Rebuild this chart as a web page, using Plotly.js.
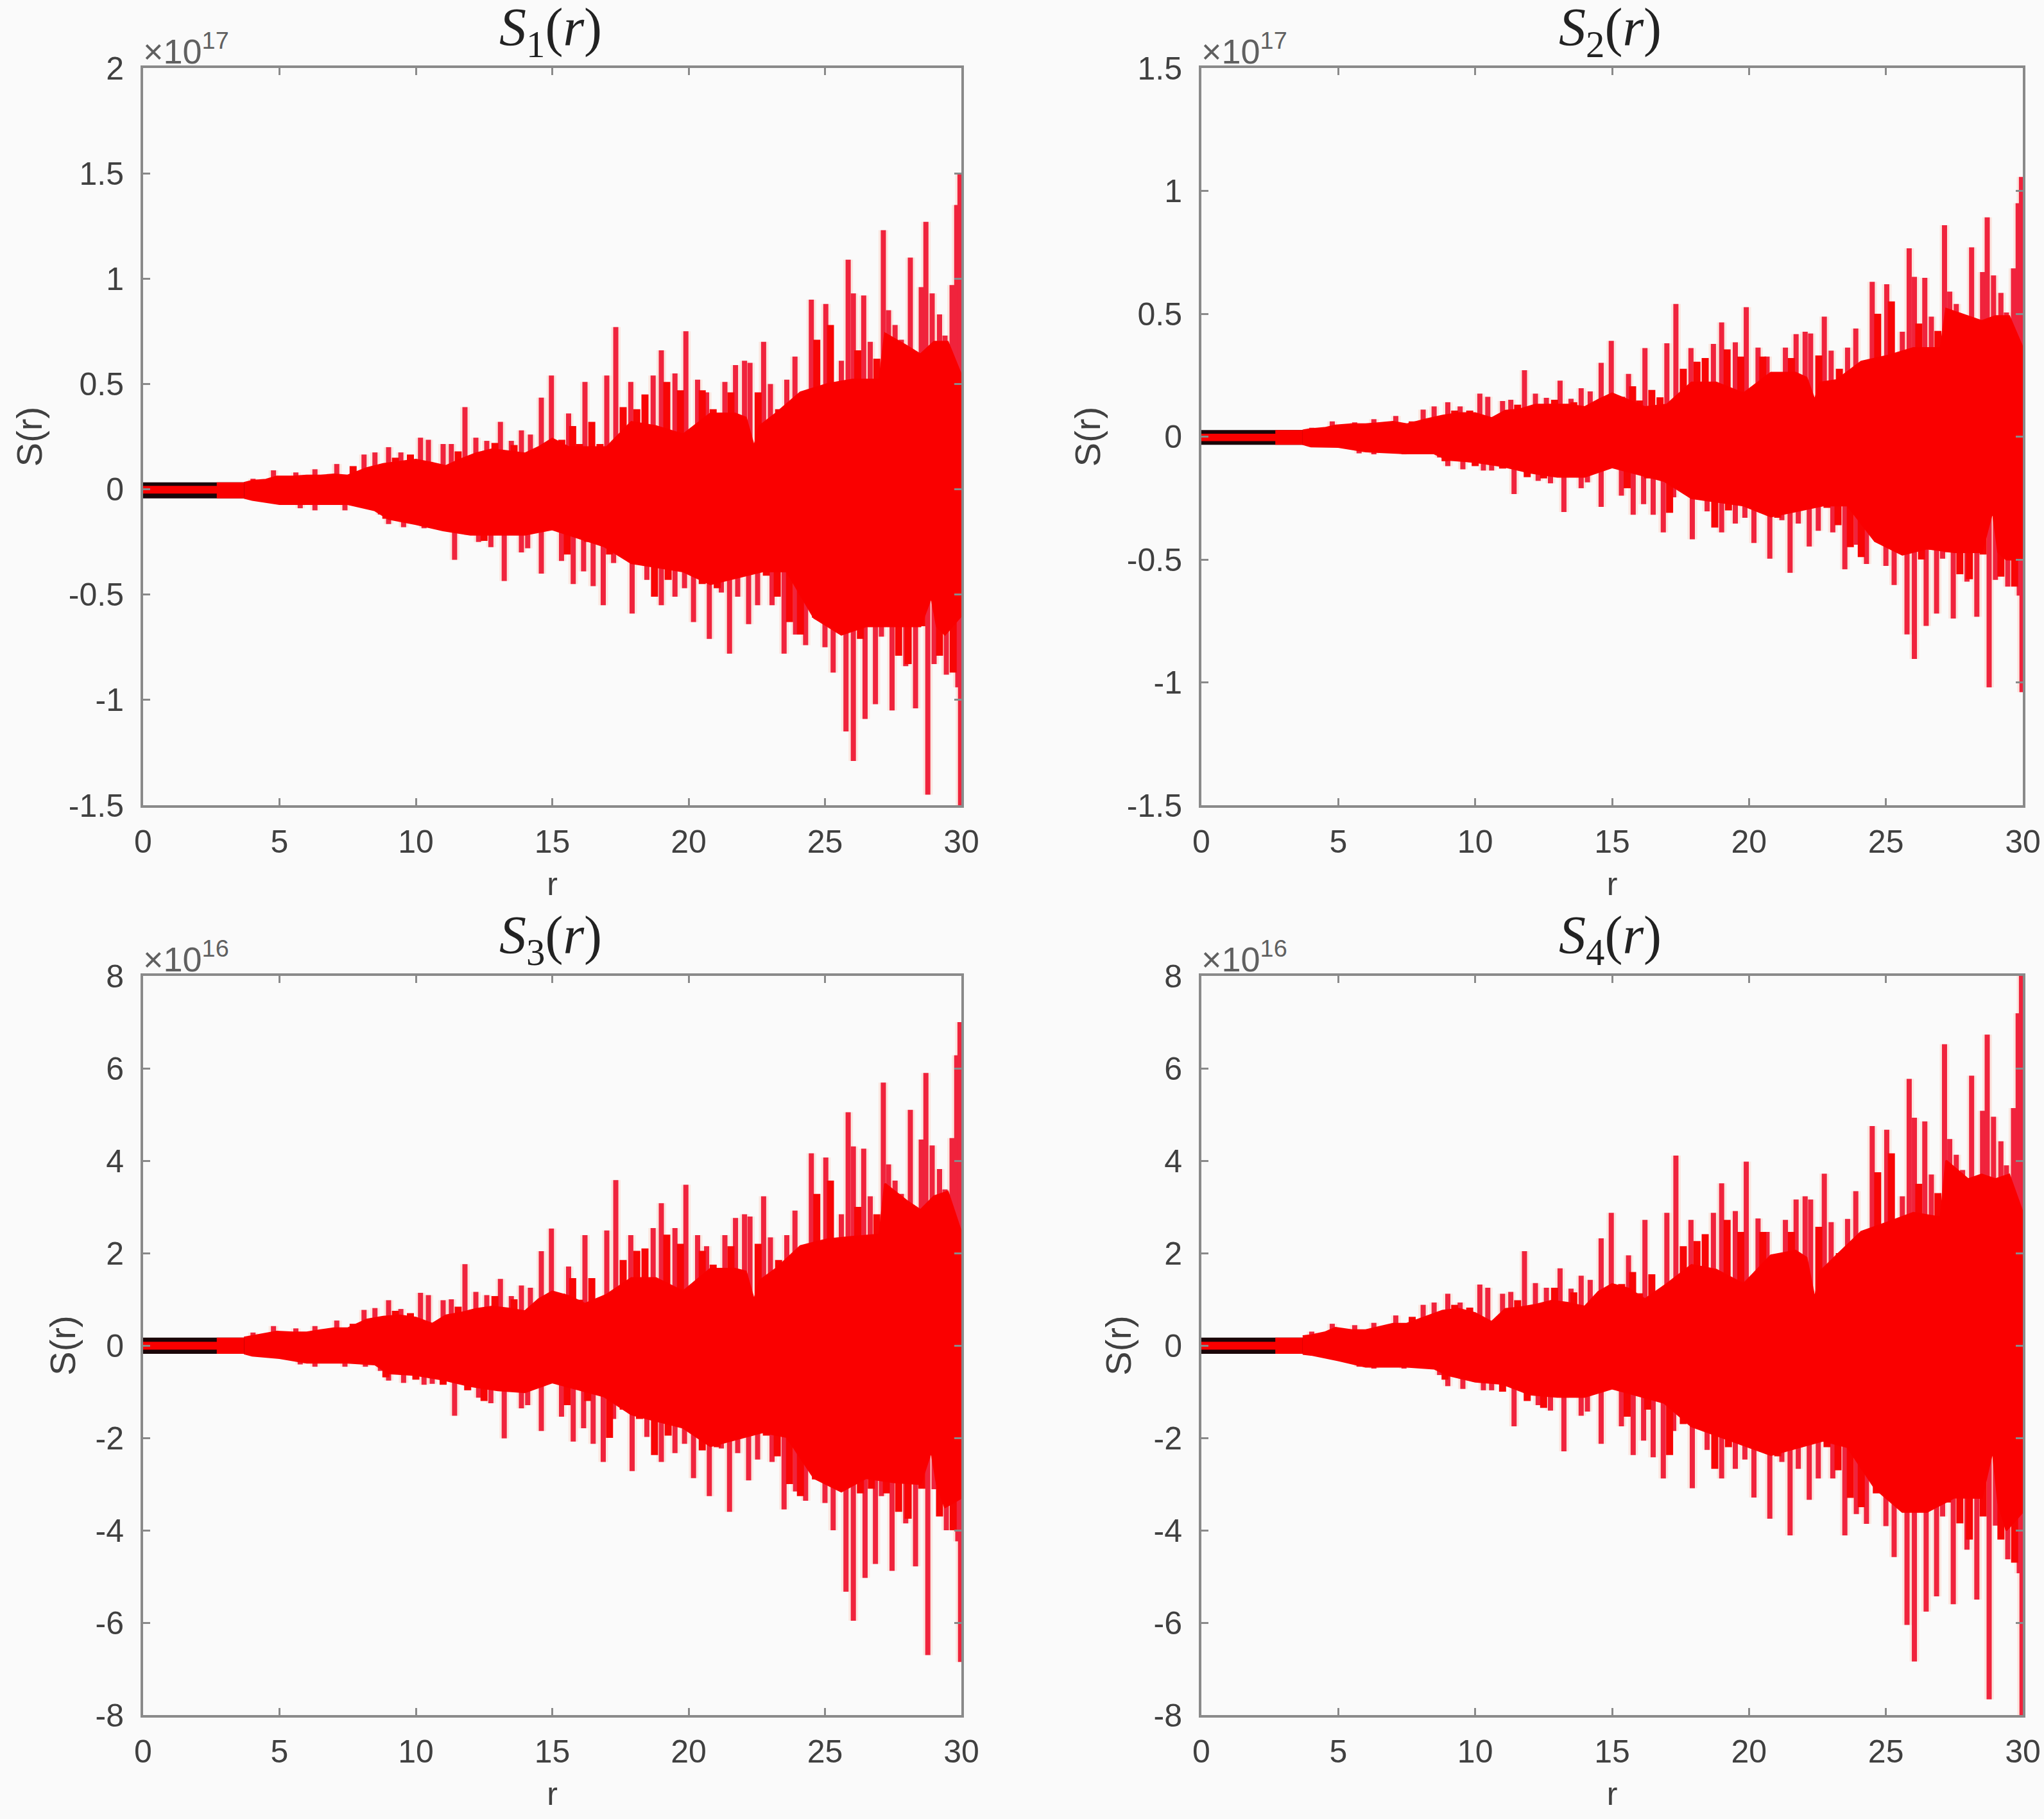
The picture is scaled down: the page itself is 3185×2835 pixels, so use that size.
<!DOCTYPE html>
<html>
<head>
<meta charset="utf-8">
<script src="https://cdn.plot.ly/plotly-3.0.1.min.js"></script>
<style>html,body{margin:0;padding:0;background:#fafafa}</style>
</head>
<body>
<div id="chart" style="width:3185px;height:2835px"></div>
<script>
// Values are in the units shown on each axis (x10^17 for S1,S2 and x10^16 for S3,S4)
const xTicks = [0,5,10,15,20,25,30];
const yTicks12 = [-1.5,-1,-0.5,0,0.5,1,1.5,2];
const yTicks2 = [-1.5,-1,-0.5,0,0.5,1,1.5];
const yTicks34 = [-8,-6,-4,-2,0,2,4,6,8];

const bandR = [0,2.7,2.7,3.7];
const blackR = [0,3.8];
const s1Black = [0.033,-0.043], s2Black = [0.027,-0.033], s3Black = [0.17,-0.18], s4Black = [0.17,-0.18];
const s1Band = [0.016,-0.02,0.033,-0.043], s2Band = [0.012,-0.018,0.027,-0.033], s3Band = [0.08,-0.09,0.17,-0.18], s4Band = [0.08,-0.09,0.17,-0.18];

const hiR = [3.7,4.0,4.5,4.9,5.5,6.0,6.5,7.0,7.5,8.2,8.8,9.4,10.0,10.6,11.1,11.6,12.2,12.8,13.4,14.0,14.5,15.0,15.6,16.2,17.0,17.9,18.8,19.8,20.8,21.7,22.1,22.4,22.6,23.2,24.1,25.1,26.0,27.0,27.2,28.0,28.5,29.0,29.5,30];
const s1Hi = [.03,.04,.045,.06,.06,.065,.065,.07,.065,.10,.12,.13,.14,.125,.11,.14,.17,.19,.18,.17,.20,.24,.20,.20,.20,.32,.30,.26,.36,.36,.34,.20,.30,.36,.46,.50,.52,.52,.74,.68,.64,.70,.70,.54];
const s2Hi = [.025,.03,.035,.045,.05,.05,.055,.06,.05,.07,.085,.095,.095,.075,.105,.11,.13,.13,.13,.12,.15,.176,.147,.12,.13,.22,.22,.176,.26,.26,.24,.147,.22,.23,.305,.33,.36,.36,.52,.49,.47,.49,.49,.36];
const s3Hi = [.17,.2,.25,.3,.28,.28,.33,.37,.37,.56,.62,.65,.6,.47,.65,.7,.79,.84,.8,.74,1.0,1.17,1.07,.9,1.1,1.46,1.46,1.17,1.66,1.66,1.6,.97,1.4,1.66,2.15,2.3,2.35,2.4,3.5,3.13,2.93,3.23,3.33,2.44];
const s4Hi = [.2,.22,.28,.38,.33,.33,.4,.47,.47,.62,.75,.79,.7,.51,.79,.82,.88,.97,.92,.84,1.16,1.33,1.23,1.0,1.33,1.74,1.64,1.33,1.95,2.05,1.9,1.0,1.6,1.95,2.46,2.67,2.87,2.77,4.0,3.6,3.7,3.6,3.7,2.87];

const loR = [3.7,4,5,6,7.5,8.5,9,10,11,12,13,14,15,16.9,17.9,19.8,20.8,22.7,23.6,24.6,25.6,26.5,27.5,28.5,28.9,29.1,29.4,30];
const s1Lo = [-.04,-.05,-.07,-.07,-.07,-.10,-.14,-.165,-.195,-.215,-.215,-.215,-.19,-.27,-.35,-.39,-.45,-.39,-.39,-.61,-.69,-.65,-.65,-.65,-.51,-.65,-.69,-.6];
const s2Lo = [-.03,-.04,-.042,-.06,-.068,-.068,-.094,-.103,-.12,-.146,-.163,-.163,-.125,-.18,-.25,-.28,-.325,-.28,-.28,-.425,-.48,-.455,-.47,-.47,-.3,-.47,-.5,-.5];
const s3Lo = [-.17,-.22,-.27,-.37,-.37,-.41,-.6,-.64,-.74,-.88,-.97,-1.01,-.8,-1.1,-1.49,-1.78,-2.18,-1.88,-1.98,-2.87,-3.16,-2.87,-2.96,-3.0,-2.28,-3.0,-3.5,-3.3];
const s4Lo = [-.18,-.2,-.32,-.46,-.46,-.5,-.64,-.78,-.83,-1.06,-1.11,-1.11,-.93,-1.24,-1.75,-2.16,-2.37,-2.06,-2.2,-3.09,-3.6,-3.6,-3.29,-3.3,-2.26,-3.4,-4.0,-3.6];

const upR = [4.03,4.78,5.6,6.3,7.1,8.1,8.5,9.0,9.45,10.17,10.46,11.0,11.3,11.8,12.2,12.6,13.1,13.5,13.87,14.2,14.6,14.97,
  15.6,16.2,17.0,17.33,17.88,18.7,19.0,19.5,19.9,20.33,20.66,21.33,21.72,22.05,22.25,22.75,23.0,23.6,23.9,24.5,25.03,25.6,25.85,26.04,26.42,26.66,27.14,27.33,27.57,27.8,28.13,28.53,28.7,28.93,29.2,29.4,29.66,29.83,29.95];
const s1Up = [.05,.09,.08,.095,.12,.165,.175,.20,.175,.245,.235,.215,.215,.39,.245,.23,.32,.23,.28,.26,.435,.54,
  .36,.51,.54,.77,.51,.54,.66,.55,.75,.52,.46,.51,.59,.61,.60,.70,.50,.52,.63,.90,.88,.61,1.09,.93,.92,.70,1.23,.85,.78,.71,1.10,.96,1.27,.93,.83,.73,.97,1.35,1.50];
const s2Up = [.036,.062,.058,.071,.084,.11,.123,.14,.123,.175,.162,.145,.15,.27,.175,.158,.228,.154,.197,.184,.30,.39,
  .255,.36,.38,.54,.36,.377,.465,.384,.527,.362,.326,.362,.417,.427,.42,.488,.35,.362,.44,.63,.62,.427,.766,.65,.646,.488,.86,.59,.54,.49,.77,.67,.892,.656,.585,.505,.685,.95,1.057];
const s3Up = [.28,.42,.37,.42,.54,.77,.81,.98,.79,1.14,1.09,.98,1.0,1.76,1.16,1.09,1.44,1.07,1.30,1.25,2.04,2.53,
  1.71,2.39,2.49,3.58,2.39,2.54,3.08,2.54,3.48,2.39,2.15,2.39,2.76,2.84,2.79,3.23,2.34,2.39,2.92,4.16,4.07,2.84,5.05,4.31,4.26,3.23,5.69,3.92,3.57,3.28,5.1,4.46,5.9,4.33,3.82,3.38,4.49,6.28,7.0];
const s4Up = [.30,.47,.44,.49,.65,.88,.93,1.12,.93,1.32,1.25,1.12,1.16,2.04,1.35,1.25,1.67,1.23,1.51,1.42,2.32,2.87,
  1.95,2.72,2.87,4.11,2.72,2.87,3.51,2.91,3.98,2.75,2.46,2.72,3.16,3.23,3.16,3.72,2.67,2.74,3.34,4.75,4.67,3.23,5.77,4.93,4.85,3.7,6.52,4.47,4.13,3.8,5.84,5.08,6.73,4.95,4.42,3.9,5.14,7.19,8.0];

const downR = [5.76,6.3,7.4,8.15,8.7,9.0,9.55,10.3,10.6,11.42,12.3,12.75,13.24,13.87,14.1,14.6,
  15.34,15.77,16.15,16.5,16.87,17.25,17.93,18.47,19.0,19.5,19.85,20.18,20.76,21.2,21.5,21.8,22.2,22.53,23.06,23.5,23.92,24.29,25.0,25.3,25.77,26.04,26.47,26.85,27.07,27.46,27.96,28.32,28.77,29.0,29.45,29.87,29.97];
const s1Down = [-.09,-.10,-.10,-.08,-.12,-.165,-.18,-.185,-.18,-.335,-.25,-.275,-.435,-.30,-.28,-.40,
  -.34,-.45,-.39,-.46,-.55,-.35,-.59,-.43,-.55,-.51,-.47,-.63,-.71,-.49,-.78,-.51,-.64,-.55,-.55,-.78,-.69,-.74,-.75,-.87,-1.15,-1.29,-1.09,-1.02,-.70,-1.05,-.84,-1.04,-1.45,-.83,-.88,-.94,-1.5];
const s2Down = [-.068,-.072,-.072,-.068,-.085,-.12,-.133,-.138,-.138,-.234,-.18,-.19,-.307,-.21,-.186,-.286,
  -.24,-.318,-.275,-.318,-.39,-.247,-.418,-.304,-.39,-.354,-.33,-.433,-.497,-.34,-.554,-.354,-.447,-.383,-.39,-.54,-.44,-.518,-.526,-.604,-.805,-.905,-.77,-.72,-.497,-.74,-.59,-.733,-1.02,-.583,-.61,-.647,-1.04];
const s3Down = [-.41,-.46,-.46,-.46,-.55,-.76,-.81,-.85,-.83,-1.52,-1.13,-1.25,-2.01,-1.36,-1.29,-1.85,
  -1.54,-2.08,-1.79,-2.13,-2.52,-1.59,-2.72,-1.98,-2.52,-2.33,-2.13,-2.87,-3.26,-2.23,-3.6,-2.33,-2.92,-2.47,-2.52,-3.55,-3.16,-3.36,-3.41,-4.0,-5.33,-5.96,-5.03,-4.73,-3.26,-4.88,-3.85,-4.78,-6.7,-3.11,-4.0,-4.24,-6.85];
const s4Down = [-.46,-.50,-.50,-.50,-.64,-.88,-.94,-.97,-.97,-1.75,-1.29,-1.41,-2.29,-1.52,-1.43,-2.13,
  -1.75,-2.37,-2.06,-2.42,-2.88,-1.85,-3.09,-2.26,-2.88,-2.67,-2.47,-3.29,-3.75,-2.52,-4.11,-2.67,-3.34,-2.88,-2.88,-4.11,-3.65,-3.86,-3.91,-4.58,-6.05,-6.84,-5.76,-5.43,-3.7,-5.6,-4.42,-5.5,-7.66,-3.9,-4.63,-4.93,-8.0];

// medium-height peaks that make up the jagged edge of the solid mass
const midUpR = [7.7,9.25,9.8,11.55,12.9,13.6,15.35,15.75,16.0,16.45,16.75,17.6,18.1,18.4,19.2,19.7,20.5,20.9,21.2,21.55,22.55,23.3,24.7,25.2,26.2,26.9];
const s1MidUp = [.11,.15,.165,.18,.22,.21,.235,.30,.215,.32,.215,.39,.38,.45,.51,.47,.47,.38,.35,.46,.46,.38,.71,.78,.66,.62];
const s2MidUp = [.062,.106,.106,.13,.15,.14,.162,.205,.147,.19,.16,.276,.305,.32,.355,.326,.326,.26,.25,.32,.33,.276,.5,.55,.46,.43];
const s3MidUp = [.47,.75,.7,.84,1.07,1.0,1.12,1.46,.99,1.46,.97,1.85,2.05,2.1,2.4,2.2,2.05,1.75,1.65,2.15,2.2,1.85,3.28,3.57,3.0,2.84];
const s4MidUp = [.62,.88,.82,.98,1.25,1.15,1.33,1.59,1.13,1.54,1.08,2.15,2.26,2.41,2.72,2.46,2.46,1.95,1.9,2.46,2.57,2.0,3.75,4.16,3.5,3.3];
const midDownR = [8.9,10.0,11.0,11.9,12.5,15.55,16.3,17.1,17.6,18.2,18.75,19.25,20.5,21.05,22.85,23.25,23.7,24.1,24.65,25.55,26.3,26.7,27.25,27.7,28.05,28.55,29.2,29.7];
const s1MidDown = [-.14,-.14,-.165,-.215,-.245,-.31,-.25,-.31,-.31,-.35,-.51,-.43,-.45,-.47,-.41,-.51,-.63,-.69,-.61,-.67,-.71,-.65,-.65,-.79,-.83,-.65,-.79,-.87];
const s2MidDown = [-.1,-.12,-.13,-.165,-.17,-.21,-.17,-.31,-.21,-.24,-.37,-.30,-.31,-.33,-.29,-.36,-.45,-.49,-.42,-.47,-.5,-.46,-.47,-.56,-.58,-.48,-.57,-.61];
const s3MidDown = [-.69,-.74,-.85,-.97,-1.2,-1.29,-1.2,-2.0,-1.39,-1.59,-2.37,-1.95,-2.27,-2.2,-1.95,-2.4,-3.0,-3.26,-2.9,-3.1,-3.2,-3.1,-3.2,-3.6,-3.75,-3.1,-3.7,-4.0];
const s4MidDown = [-.74,-.78,-1.0,-1.2,-1.35,-1.54,-1.39,-2.37,-1.7,-1.8,-2.67,-2.2,-2.3,-2.4,-2.2,-2.7,-3.3,-3.5,-3.2,-3.5,-3.6,-3.4,-3.4,-3.85,-4.2,-3.7,-4.2,-4.7];

const titles = ['<i>S</i><sub>1</sub>(<i>r</i>)','<i>S</i><sub>2</sub>(<i>r</i>)','<i>S</i><sub>3</sub>(<i>r</i>)','<i>S</i><sub>4</sub>(<i>r</i>)'];
const exponents = ['×10<sup>17</sup>','×10<sup>17</sup>','×10<sup>16</sup>','×10<sup>16</sup>'];
const xLabel = 'r', yLabel = 'S(r)';

const W = 3185, H = 2835;
const boxes = [[223,1498,106,1255],[1872,3152,106,1255],[223,1498,1521,2673],[1872,3152,1521,2673]];
const ranges = [[-1.5,2],[-1.5,1.5],[-8,8],[-8,8]];
const ticks = [yTicks12,yTicks2,yTicks34,yTicks34];
const standoffs = [24,24,14,18];
const sets = [
  {hi:s1Hi,lo:s1Lo,up:s1Up,down:s1Down,midUp:s1MidUp,midDown:s1MidDown,black:s1Black,band:s1Band},
  {hi:s2Hi,lo:s2Lo,up:s2Up,down:s2Down,midUp:s2MidUp,midDown:s2MidDown,black:s2Black,band:s2Band},
  {hi:s3Hi,lo:s3Lo,up:s3Up,down:s3Down,midUp:s3MidUp,midDown:s3MidDown,black:s3Black,band:s3Band},
  {hi:s4Hi,lo:s4Lo,up:s4Up,down:s4Down,midUp:s4MidUp,midDown:s4MidDown,black:s4Black,band:s4Band}];

const ink = '#404040', axisInk = '#8a8a8a', bg = '#fafafa';
const traces = [], layout = {
  width:W, height:H, paper_bgcolor:bg, plot_bgcolor:bg, showlegend:false,
  margin:{l:0,r:0,t:0,b:0}, font:{family:'"Liberation Sans",Arial,sans-serif',color:ink,size:48}, annotations:[]
};
function stems(r,v){const x=[],y=[];r.forEach((q,i)=>{x.push(q,q,null);y.push(0,v[i],null);});return {x,y};}

sets.forEach((s,i)=>{
  const k = i+1, xa = 'x'+(k===1?'':k), ya = 'y'+(k===1?'':k), b = boxes[i];
  const up = stems(upR,s.up), dn = stems(downR,s.down);
  const mu = stems(midUpR,s.midUp), md = stems(midDownR,s.midDown);
  const sx = up.x.concat(dn.x), sy = up.y.concat(dn.y);
  const mx = mu.x.concat(md.x), my = mu.y.concat(md.y);
  const base = {xaxis:xa,yaxis:ya,hoverinfo:'skip',mode:'lines'};
  traces.push(Object.assign({},base,{x:[blackR[0],blackR[1],blackR[1],blackR[0]],y:[s.black[0],s.black[0],s.black[1],s.black[1]],fill:'toself',fillcolor:'#1a0508',line:{width:0,color:'#1a0508'}}));
  traces.push(Object.assign({},base,{x:sx,y:sy,line:{color:'rgba(255,190,170,0.30)',width:15}}));
  traces.push(Object.assign({},base,{x:sx,y:sy,line:{color:'rgb(240,35,60)',width:8}}));
  traces.push(Object.assign({},base,{x:mx,y:my,line:{color:'#f80505',width:11}}));
  traces.push(Object.assign({},base,{x:[bandR[0],bandR[1],bandR[2],bandR[3],bandR[3],bandR[2],bandR[1],bandR[0]],
    y:[s.band[0],s.band[0],s.band[2],s.band[2],s.band[3],s.band[3],s.band[1],s.band[1]],fill:'toself',fillcolor:'#fa0000',line:{width:0,color:'#fa0000'}}));
  traces.push(Object.assign({},base,{x:hiR.concat(loR.slice().reverse()),y:s.hi.concat(s.lo.slice().reverse()),fill:'toself',fillcolor:'#fa0000',line:{width:3,color:'#fa0000'}}));
  const common = {showline:true,mirror:'ticks',linecolor:axisInk,linewidth:4,ticks:'inside',ticklen:11,tickwidth:3,tickcolor:axisInk,zeroline:false,showgrid:false,tickfont:{size:50,color:ink}};
  layout['xaxis'+(k===1?'':k)] = Object.assign({},common,{domain:[b[0]/W,b[1]/W],range:[0,30],anchor:ya,tickmode:'array',tickvals:xTicks,ticktext:xTicks.map(String),ticklabelstandoff:10,
    title:{text:xLabel,font:{size:50,color:ink},standoff:22}});
  layout['yaxis'+(k===1?'':k)] = Object.assign({},common,{domain:[1-b[3]/H,1-b[2]/H],range:ranges[i],anchor:xa,tickmode:'array',tickvals:ticks[i],ticktext:ticks[i].map(String),ticklabelstandoff:16,
    title:{text:yLabel,font:{size:56,color:ink},standoff:standoffs[i]}});
  layout.annotations.push({xref:xa+' domain',yref:ya+' domain',x:0.5,y:1,yanchor:'bottom',xanchor:'center',xshift:-3,yshift:2,showarrow:false,text:titles[i],font:{family:'"Liberation Serif",serif',size:84,color:'#222222'}});
  layout.annotations.push({xref:xa+' domain',yref:ya+' domain',x:0,y:1,yanchor:'bottom',xanchor:'left',xshift:-2,yshift:-6,showarrow:false,text:exponents[i],font:{size:54,color:'#606060'}});
});
Plotly.newPlot('chart',traces,layout,{displayModeBar:false,staticPlot:true});
</script>
</body>
</html>
